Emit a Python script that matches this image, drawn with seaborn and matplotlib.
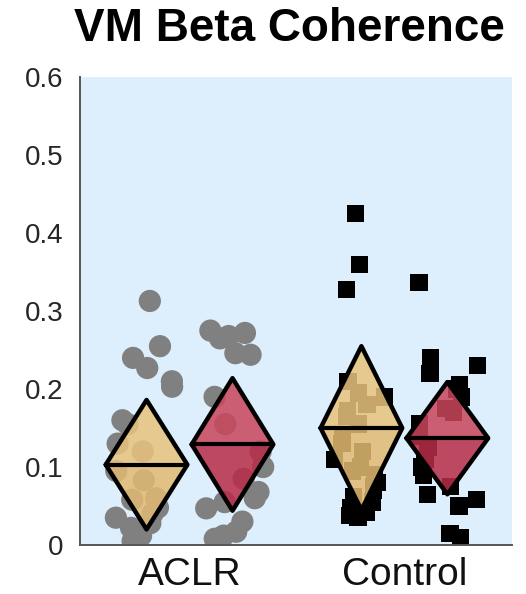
import numpy as np
import pandas as pd
import matplotlib
matplotlib.use("Agg")
import matplotlib.pyplot as plt
import seaborn as sns

groups = ["ACLR", "Control"]
limbs = ["Limb 1", "Limb 2"]

# Individual coherence values per group and limb
aclr_limb1 = [0.313, 0.255, 0.240, 0.227, 0.210, 0.203, 0.160, 0.155, 0.130, 0.120,
              0.095, 0.083, 0.060, 0.058, 0.048, 0.040, 0.035, 0.028, 0.022, 0.012, 0.005]
aclr_limb2 = [0.272, 0.268, 0.275, 0.246, 0.244, 0.265, 0.190, 0.155, 0.120, 0.100,
              0.085, 0.068, 0.060, 0.055, 0.047, 0.030, 0.017, 0.012, 0.008]
ctrl_limb1 = [0.425, 0.360, 0.328, 0.210, 0.195, 0.190, 0.180, 0.172, 0.165, 0.155,
              0.140, 0.130, 0.120, 0.110, 0.100, 0.095, 0.090, 0.080, 0.075, 0.070,
              0.062, 0.055, 0.048, 0.042, 0.038, 0.035]
ctrl_limb2 = [0.337, 0.240, 0.230, 0.220, 0.205, 0.200, 0.190, 0.175, 0.170, 0.155,
              0.140, 0.125, 0.110, 0.100, 0.090, 0.075, 0.065, 0.058, 0.050, 0.015, 0.010]

# Diamond summaries: centre (mean) and half-height, ordered [limb1, limb2]
aclr_mean = [0.103, 0.129]
aclr_half = [0.083, 0.085]
ctrl_mean = [0.150, 0.137]
ctrl_half = [0.105, 0.072]

yticks = [0, 0.1, 0.2, 0.3, 0.4, 0.5, 0.6]
ytick_labels = ["0", "0.1", "0.2", "0.3", "0.4", "0.5", "0.6"]

rows = []
for g, l, vals in [("ACLR", limbs[0], aclr_limb1), ("ACLR", limbs[1], aclr_limb2),
                   ("Control", limbs[0], ctrl_limb1), ("Control", limbs[1], ctrl_limb2)]:
    rows += [{"group": g, "limb": l, "coh": v} for v in vals]
df = pd.DataFrame(rows)

sns.set_style("white")
plt.rcParams["font.family"] = ["Liberation Sans", "DejaVu Sans"]

fig = plt.figure(figsize=(5.26, 5.94), dpi=100)
ax = fig.add_axes([0.152, 0.0825, 0.821, 0.7875])
ax.set_facecolor("#DDEFFC")

np.random.seed(3)
point_style = {"ACLR": ("o", "#808080", 16), "Control": ("s", "#000000", 12.5)}
for g in groups:
    marker, color, size = point_style[g]
    sns.stripplot(data=df[df.group == g], x="group", y="coh", hue="limb",
                  order=groups, hue_order=limbs, dodge=True, jitter=0.3,
                  palette=[color, color], marker=marker, size=size,
                  linewidth=0, legend=False, ax=ax, zorder=2)

# Diamonds: lighter upper half, darker lower half, mean line across the middle
upper_cols = ["#E8C37D", "#CA465C"]
lower_cols = ["#E2BA72", "#B82D48"]
offset = 0.2
hw = 0.19
for gi, (means, halves) in enumerate([(aclr_mean, aclr_half), (ctrl_mean, ctrl_half)]):
    for li in range(2):
        cx = gi + (offset if li else -offset)
        m, h = means[li], halves[li]
        ax.fill([cx - hw, cx, cx + hw], [m, m + h, m], color=upper_cols[li],
                alpha=0.86, lw=0, zorder=3)
        ax.fill([cx - hw, cx, cx + hw], [m, m - h, m], color=lower_cols[li],
                alpha=0.86, lw=0, zorder=3)
        ax.plot([cx - hw, cx, cx + hw, cx, cx - hw], [m, m + h, m, m - h, m],
                color="black", lw=3.2, solid_joinstyle="round", zorder=4)
        ax.plot([cx - hw, cx + hw], [m, m], color="black", lw=3.0, zorder=4)

ax.set_xlim(-0.51, 1.5)
ax.set_ylim(0, 0.6)
ax.set_yticks(yticks)
ax.set_yticklabels(ytick_labels)
ax.set_xlabel("")
ax.set_ylabel("")
for s in ["top", "right"]:
    ax.spines[s].set_visible(False)
for s in ["left", "bottom"]:
    ax.spines[s].set_color("#555555")
    ax.spines[s].set_linewidth(1.4)
ax.tick_params(axis="both", direction="in", length=5, width=1.2, color="#555555")
ax.tick_params(axis="y", labelsize=20, labelcolor="#262626", pad=12)
ax.tick_params(axis="x", labelsize=28, labelcolor="#111111", pad=9)

fig.text(0.55, 0.951, "VM Beta Coherence", ha="center", va="center",
         fontsize=33, fontweight="bold", color="black")

fig.savefig("out.png", dpi=100)
